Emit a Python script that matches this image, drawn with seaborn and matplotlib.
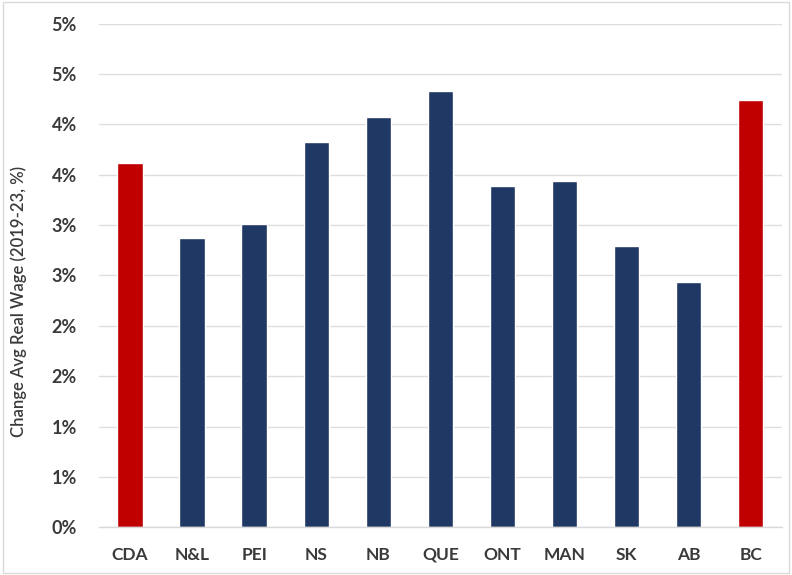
import math
import matplotlib
matplotlib.use("Agg")
import matplotlib.pyplot as plt
import matplotlib.ticker as mticker
import seaborn as sns
import pandas as pd

# Provinces and change in average real wage, 2019-23 (%)
regions = ["CDA", "N&L", "PEI", "NS", "NB", "QUE", "ONT", "MAN", "SK", "AB", "BC"]
wage_change = [3.62, 2.87, 3.01, 3.82, 4.07, 4.33, 3.39, 3.44, 2.79, 2.43, 4.24]
highlight = ["CDA", "BC"]

RED = "#C00000"
NAVY = "#203864"

df = pd.DataFrame({"region": regions, "change": wage_change})
palette = {r: (RED if r in highlight else NAVY) for r in regions}

sns.set_theme(style="white")
plt.rcParams["font.family"] = ["Lato", "DejaVu Sans"]

fig = plt.figure(figsize=(7.92, 5.75), dpi=100)
ax = fig.add_axes([0.125, 0.083, 0.862, 0.876])

sns.barplot(data=df, x="region", y="change", hue="region", palette=palette,
            order=regions, width=0.41, legend=False, ax=ax, saturation=1)

ax.set_ylim(0, 5)
ax.set_xlim(-0.5, len(regions) - 0.5)
ax.yaxis.set_major_locator(mticker.MultipleLocator(0.5))
# whole-percent labels, halves rounded up
ax.yaxis.set_major_formatter(mticker.FuncFormatter(lambda v, p: f"{math.floor(v + 0.5 + 1e-9):d}%"))
ax.grid(axis="y", color="#dedede", linewidth=1)
ax.set_axisbelow(True)

for s in ["top", "right", "left"]:
    ax.spines[s].set_visible(False)
ax.spines["bottom"].set_color("#d9d9d9")
ax.spines["bottom"].set_linewidth(1)

ax.tick_params(axis="y", length=0, pad=16, labelsize=13, labelcolor="#3a3a3a")
ax.tick_params(axis="x", length=0, pad=14, labelsize=12.5, labelcolor="#3a3a3a")
for lab in ax.get_xticklabels() + ax.get_yticklabels():
    lab.set_fontweight("bold")

ax.set_xlabel("")
ax.set_ylabel("Change Avg Real Wage (2019-23, %)", fontsize=12, color="#3a3a3a",
              fontweight="semibold")
ax.yaxis.set_label_coords(-0.105, 0.449)

# thin frame around the whole figure
fig.patches.append(plt.Rectangle((0.004, 0.004), 0.992, 0.992, transform=fig.transFigure,
                                 fill=False, edgecolor="#d9d9d9", linewidth=1))

fig.savefig("out.png", dpi=100)
